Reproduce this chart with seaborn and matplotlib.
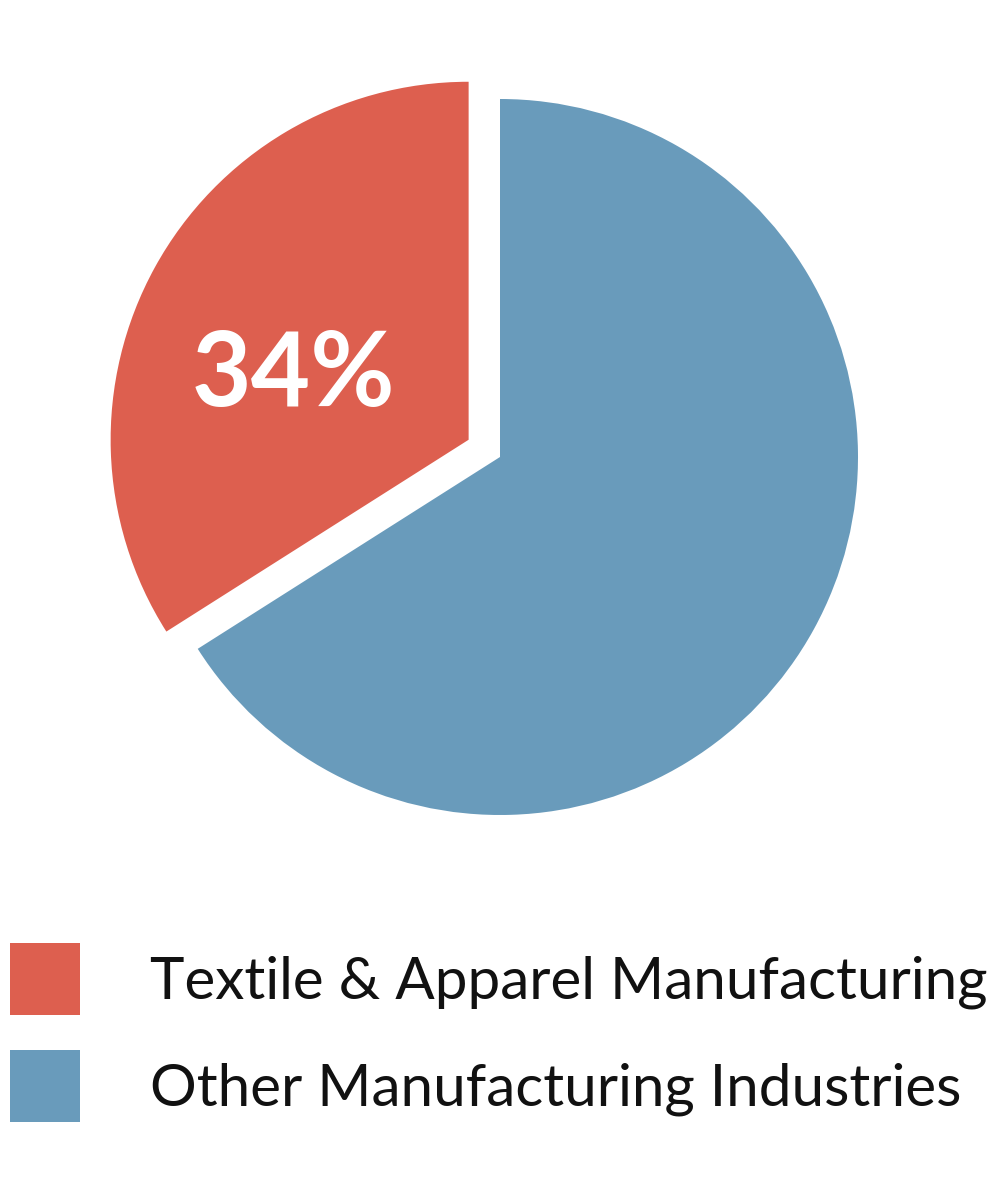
import matplotlib
matplotlib.use("Agg")
import matplotlib.pyplot as plt
import seaborn as sns

categories = ["Textile & Apparel Manufacturing", "Other Manufacturing Industries"]
shares = [34, 66]
colors = ["#DD5F4F", "#699BBB"]
label_text = "34%"

sns.set_theme(style="white")
plt.rcParams["font.family"] = ["Lato", "DejaVu Sans"]

fig = plt.figure(figsize=(10, 11.88), dpi=100)
R = 358.0
half = 400.0
ax = fig.add_axes([(500 - half) / 1000, (1188 - 457 - half) / 1188, 2 * half / 1000, 2 * half / 1188])
wedges, _ = ax.pie(shares, colors=colors, startangle=90, counterclock=True,
                   explode=[0.1, 0], radius=1.0, wedgeprops=dict(linewidth=0))
lim = half / R
ax.set_xlim(-lim, lim)
ax.set_ylim(-lim, lim)
ax.set_aspect("equal")
ax.axis("off")

ax.text((293 - 500) / R, (457 - 376) / R, label_text, color="white", fontsize=74,
        fontweight="bold", ha="center", va="center")

leg = fig.legend(wedges, categories, loc="upper left",
                 bbox_to_anchor=(0.01, (1188 - 943) / 1188), frameon=False,
                 fontsize=42, handlelength=1.2, handleheight=1.52, handletextpad=1.2,
                 labelspacing=0.6, borderpad=0, borderaxespad=0)
for t in leg.get_texts():
    t.set_color("#111111")

fig.savefig("out.png", dpi=100, facecolor="white")
